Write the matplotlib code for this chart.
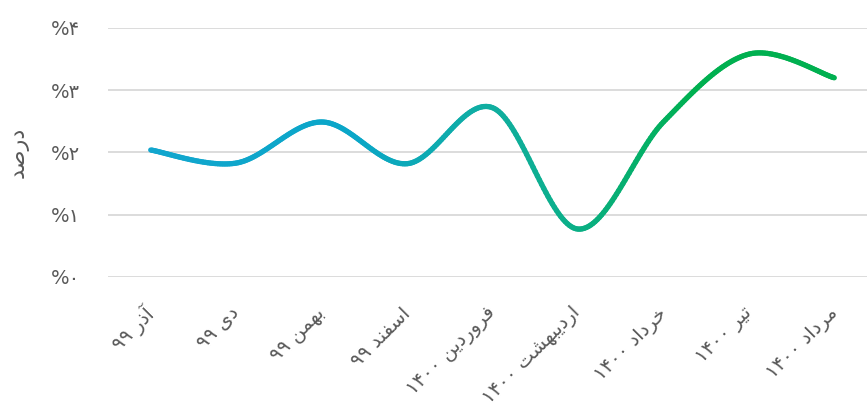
import numpy as np
import matplotlib
matplotlib.use("Agg")
import matplotlib.pyplot as plt
from matplotlib.collections import LineCollection
from matplotlib.colors import LinearSegmentedColormap

months = ["آذر ۹۹", "دی ۹۹", "بهمن ۹۹", "اسفند ۹۹", "فروردین ۱۴۰۰",
          "اردیبهشت ۱۴۰۰", "خرداد ۱۴۰۰", "تیر ۱۴۰۰", "مرداد ۱۴۰۰"]
rates = [2.04, 1.83, 2.49, 1.82, 2.72, 0.77, 2.49, 3.58, 3.20]
yticks = [0, 1, 2, 3, 4]
ytick_labels = ["%۰", "%۱", "%۲", "%۳", "%۴"]
ylabel = "درصد"

# presentation forms: isolated, final, initial, medial
FORMS = {
    "آ": (0xFE81, 0xFE82, None, None),
    "ا": (0xFE8D, 0xFE8E, None, None),
    "ب": (0xFE8F, 0xFE90, 0xFE91, 0xFE92),
    "ت": (0xFE95, 0xFE96, 0xFE97, 0xFE98),
    "خ": (0xFEA5, 0xFEA6, 0xFEA7, 0xFEA8),
    "د": (0xFEA9, 0xFEAA, None, None),
    "ذ": (0xFEAB, 0xFEAC, None, None),
    "ر": (0xFEAD, 0xFEAE, None, None),
    "س": (0xFEB1, 0xFEB2, 0xFEB3, 0xFEB4),
    "ش": (0xFEB5, 0xFEB6, 0xFEB7, 0xFEB8),
    "ص": (0xFEB9, 0xFEBA, 0xFEBB, 0xFEBC),
    "ف": (0xFED1, 0xFED2, 0xFED3, 0xFED4),
    "م": (0xFEE1, 0xFEE2, 0xFEE3, 0xFEE4),
    "ن": (0xFEE5, 0xFEE6, 0xFEE7, 0xFEE8),
    "ه": (0xFEE9, 0xFEEA, 0xFEEB, 0xFEEC),
    "و": (0xFEED, 0xFEEE, None, None),
    "ی": (0xFEEF, 0xFEF0, 0xFEF3, 0xFEF4),
}


def shape_word(word):
    out = []
    for i, ch in enumerate(word):
        if ch not in FORMS:
            out.append(ch)
            continue
        prev = word[i - 1] if i > 0 else None
        nxt = word[i + 1] if i + 1 < len(word) else None
        iso, fin, ini, med = FORMS[ch]
        jp = prev in FORMS and FORMS[prev][2] is not None
        jn = ini is not None and nxt in FORMS
        if jp and jn:
            code = med
        elif jp:
            code = fin
        elif jn:
            code = ini
        else:
            code = iso
        out.append(chr(code))
    return "".join(out)


def rtl(text):
    words = text.split(" ")
    vis = []
    for w in reversed(words):
        if any(c in FORMS for c in w):
            vis.append(shape_word(w)[::-1])
        else:
            vis.append(w)
    return " ".join(vis)


def smooth(x, y, n=40):
    # bezier smoothing similar to spreadsheet "smoothed line"
    x = np.asarray(x, float)
    y = np.asarray(y, float)
    px, py = [], []
    for i in range(len(x) - 1):
        x0, y0 = (x[i - 1], y[i - 1]) if i > 0 else (x[i], y[i])
        x3, y3 = (x[i + 2], y[i + 2]) if i + 2 < len(x) else (x[i + 1], y[i + 1])
        c1x = x[i] + (x[i + 1] - x0) / 6
        c1y = y[i] + (y[i + 1] - y0) / 6
        c2x = x[i + 1] - (x3 - x[i]) / 6
        c2y = y[i + 1] - (y3 - y[i]) / 6
        t = np.linspace(0, 1, n, endpoint=False)
        a, b, c, d = (1 - t) ** 3, 3 * t * (1 - t) ** 2, 3 * t ** 2 * (1 - t), t ** 3
        px.extend(a * x[i] + b * c1x + c * c2x + d * x[i + 1])
        py.extend(a * y[i] + b * c1y + c * c2y + d * y[i + 1])
    px.append(x[-1])
    py.append(y[-1])
    return np.array(px), np.array(py)


plt.rcParams['font.family'] = ['DejaVu Sans']
grey = "#595959"

fig = plt.figure(figsize=(8.67, 4.11), dpi=100)
ax = fig.add_axes([108 / 867, 1 - 277 / 411, 769 / 867, 249 / 411])

xs = np.arange(len(months))
sx, sy = smooth(xs, rates)
pts = np.column_stack([sx, sy]).reshape(-1, 1, 2)
segs = np.concatenate([pts[:-1], pts[1:]], axis=1)
cmap = LinearSegmentedColormap.from_list(
    "g", [(0, "#12A6CE"), (0.3, "#0AA6C8"), (0.5, "#10AEA0"),
          (0.62, "#0BAF88"), (0.8, "#00B050"), (1, "#00B050")])
lc = LineCollection(segs, cmap=cmap, linewidth=3.8, capstyle="round",
                    joinstyle="round")
lc.set_array((sx[:-1] + sx[1:]) / 2 / xs[-1])
lc.set_clim(0, 1)
ax.add_collection(lc)

ax.set_xlim(-0.5, len(months) - 0.5)
ax.set_ylim(0, 4)
ax.set_yticks(yticks)
ax.set_yticklabels(ytick_labels)
ax.set_xticks(xs)
ax.set_xticklabels([rtl(m) for m in months], rotation=45, ha="right",
                   va="center", rotation_mode="anchor")
ax.tick_params(axis="both", length=0, colors=grey, labelsize=14)
ax.tick_params(axis="y", pad=20)
ax.tick_params(axis="x", pad=24)
ax.grid(axis="y", color="#d9d9d9", linewidth=1.3)
ax.set_axisbelow(True)
for s in ax.spines.values():
    s.set_visible(False)
ax.set_ylabel(rtl(ylabel), color=grey, fontsize=16, labelpad=16)

fig.savefig("out.png", dpi=100)
